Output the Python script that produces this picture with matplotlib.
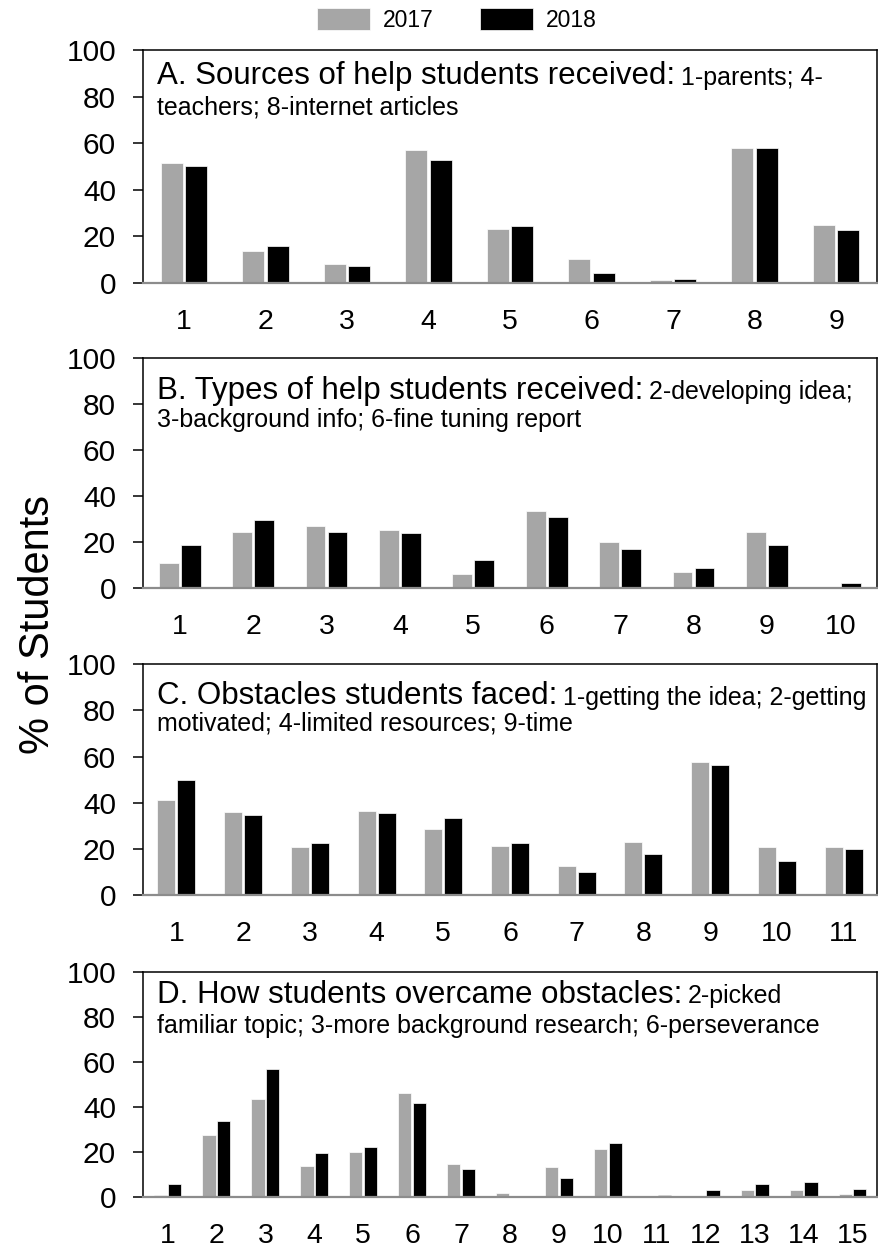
"""Four grouped bar panels: student help / obstacles survey, 2017 vs 2018"""

import matplotlib.pyplot as plt
import numpy as np

plt.rcParams["font.family"] = ["Liberation Sans", "DejaVu Sans"]

W, H = 879, 1249

years = ["2017", "2018"]
colors = ["#a6a6a6", "#000000"]

# A. sources of help
a_2017 = [51.4, 13.5, 7.9, 57.1, 23.2, 10.3, 1.0, 57.9, 24.6]
a_2018 = [50.0, 15.6, 7.0, 52.8, 24.2, 4.2, 1.4, 57.9, 22.8]

# B. types of help
b_2017 = [10.6, 24.1, 26.8, 25.1, 6.1, 33.2, 20.0, 7.0, 24.1, 0.2]
b_2018 = [18.4, 29.3, 24.2, 23.6, 12.0, 30.7, 17.0, 8.4, 18.4, 1.9]

# C. obstacles faced
c_2017 = [41.2, 35.8, 21.0, 36.4, 28.6, 21.4, 12.4, 23.1, 57.8, 21.0, 21.0]
c_2018 = [50.0, 34.8, 22.7, 35.7, 33.5, 22.7, 9.8, 17.8, 56.5, 14.7, 19.8]

# D. how obstacles were overcome
d_2017 = [0.7, 27.4, 43.6, 13.8, 19.7, 46.1, 14.7, 1.6, 13.3, 21.0, 0.3, 0.3, 3.0, 3.0, 1.2]
d_2018 = [5.6, 33.6, 56.6, 19.3, 22.1, 41.5, 12.1, 0.0, 8.4, 23.7, 0.7, 2.8, 5.6, 6.4, 3.4]

heads = [
    "A. Sources of help students received:",
    "B. Types of help students received:",
    "C. Obstacles students faced:",
    "D. How students overcame obstacles:",
]
notes = ["1-parents; 4-", "2-developing idea;", "1-getting the idea; 2-getting", "2-picked"]
notes2 = [
    "teachers; 8-internet articles",
    "3-background info; 6-fine tuning report",
    "motivated; 4-limited resources; 9-time",
    "familiar topic; 3-more background research; 6-perseverance",
]

panels = [(a_2017, a_2018), (b_2017, b_2018), (c_2017, c_2018), (d_2017, d_2018)]

# pixel layout: (top, bottom) of each plot area, and title baselines below top
rows = [(50, 282.7), (357.7, 587.7), (664.3, 895), (971.7, 1196.7)]
title_y = [(34, 65), (41, 69), (40, 66), (31, 61)]
left_px, right_px = 143, 877

fig = plt.figure(figsize=(W / 100, H / 100), dpi=100)

axes = []
for i, ((s17, s18), (top, bot)) in enumerate(zip(panels, rows)):
    ax = fig.add_axes([left_px / W, 1 - bot / H, (right_px - left_px) / W, (bot - top) / H])
    axes.append(ax)
    x = np.arange(1, len(s17) + 1)
    ax.bar(x - 0.15, s17, width=0.27, color=colors[0], edgecolor="white", linewidth=0.5, label=years[0])
    ax.bar(x + 0.15, s18, width=0.27, color=colors[1], edgecolor="white", linewidth=0.5, label=years[1])

    ax.set_xlim(0.5, len(s17) + 0.5)
    ax.set_ylim(0, 100)
    ax.set_yticks([0, 20, 40, 60, 80, 100])
    ax.set_xticks(x)
    ax.set_xticklabels([str(v) for v in x])
    ax.tick_params(axis="y", direction="out", length=7.5, width=1.1, labelsize=21.5, pad=12)
    ax.tick_params(axis="x", length=0, labelsize=20.5, pad=19)

    for side in ["left", "top", "right"]:
        ax.spines[side].set_color("black")
        ax.spines[side].set_linewidth(1.1)
    ax.spines["bottom"].set_color("#8c8c8c")
    ax.spines["bottom"].set_linewidth(1.6)

    # two-size title inside the box
    hgt = bot - top
    y1 = 1 - title_y[i][0] / hgt
    y2 = 1 - title_y[i][1] / hgt
    x0 = 14 / (right_px - left_px)
    t1 = ax.text(x0, y1, heads[i], transform=ax.transAxes, fontsize=22.5, va="baseline", ha="left")
    ax.annotate(notes[i], xy=(1, 0), xycoords=t1, xytext=(4, 1.0), textcoords="offset points",
                fontsize=18, va="bottom", ha="left")
    ax.text(x0, y2, notes2[i], transform=ax.transAxes, fontsize=18, va="baseline", ha="left")

fig.text(38 / W, 1 - 625 / H, "% of Students", rotation=90, fontsize=30, ha="center", va="center")

handles, labels = axes[0].get_legend_handles_labels()
fig.legend(handles, labels, loc="center", bbox_to_anchor=(457 / W, 1 - 20 / H), ncol=2,
           frameon=False, fontsize=16.5, handlelength=2.3, handleheight=1.05,
           handletextpad=0.6, columnspacing=2.0)

fig.savefig("out.png", dpi=100)
plt.close(fig)
